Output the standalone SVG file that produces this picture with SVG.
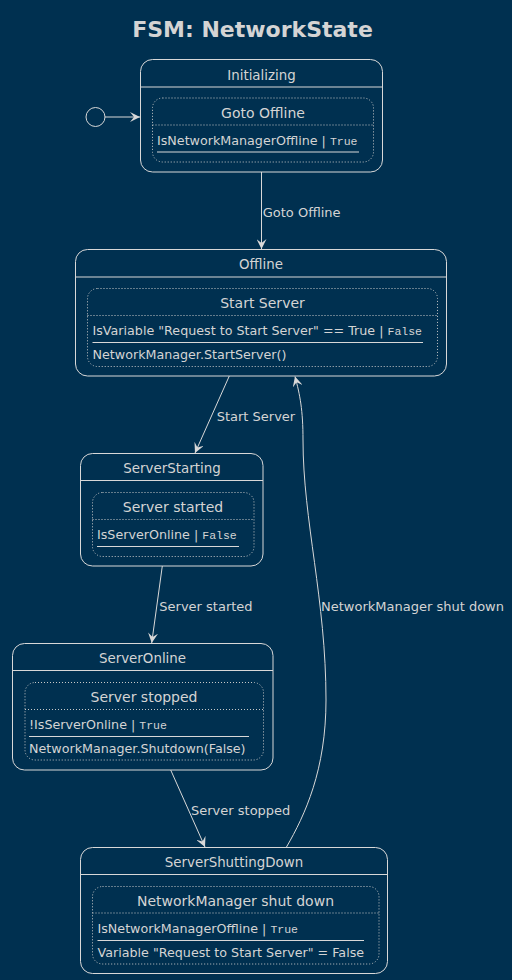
<svg xmlns="http://www.w3.org/2000/svg" width="512" height="980" viewBox="0 0 512 980">
<style>
.bg{fill:#003050}
.st{fill:#003050;stroke:#d8d8d8;stroke-width:1}
.in{fill:none;stroke:#c8c8c8;stroke-width:1;stroke-dasharray:1 2}
.hl{stroke:#d8d8d8;stroke-width:1}
.dl{stroke:#c8c8c8;stroke-width:1;stroke-dasharray:1 2}
.t{font-family:"DejaVu Sans",sans-serif;font-size:13px;fill:#d4d4d4}
.s{font-size:13.4px}
.b{font-size:12.7px}
.it{font-size:14px}
.c{text-anchor:middle}
.m{font-family:"Liberation Mono",monospace;font-size:11.5px}
.title{font-family:"DejaVu Sans",sans-serif;font-size:22px;font-weight:bold;fill:#d4d4d4;text-anchor:middle}
.e{fill:none;stroke:#d8d8d8;stroke-width:1}
</style>
<defs>
<marker id="ah" viewBox="0 0 10 10" refX="10" refY="5" markerWidth="10" markerHeight="10" markerUnits="userSpaceOnUse" orient="auto">
<path d="M0,0 L10,5 L0,10 L4,5 Z" fill="#d8d8d8"/>
</marker>
</defs>
<rect class="bg" x="0" y="0" width="512" height="980"/>
<text class="title" x="252.5" y="37">FSM: NetworkState</text>

<g id="start">
<circle cx="95.5" cy="117" r="9.5" fill="none" stroke="#d8d8d8" stroke-width="1"/>
</g>

<g id="Initializing">
<rect class="st" x="140.5" y="59.5" width="242" height="112.5" rx="12"/>
<line class="hl" x1="140.5" y1="87" x2="382.5" y2="87"/>
<text class="t s c" x="261.5" y="80">Initializing</text>
<rect class="in" x="152.5" y="98" width="221" height="64" rx="10"/>
<text class="t it c" x="263" y="118">Goto Offline</text>
<line class="dl" x1="152.5" y1="125" x2="373.5" y2="125"/>
<text class="t b" x="157" y="145">IsNetworkManagerOffline | <tspan class="m">True</tspan></text>
<line class="hl" x1="157" y1="152" x2="359" y2="152"/>
</g>

<g id="Offline">
<rect class="st" x="75.5" y="249.5" width="371" height="126.5" rx="12"/>
<line class="hl" x1="75.5" y1="277" x2="446.5" y2="277"/>
<text class="t s c" x="261" y="269">Offline</text>
<rect class="in" x="87.5" y="288.5" width="350" height="78" rx="10"/>
<text class="t it c" x="262.5" y="308">Start Server</text>
<line class="dl" x1="87.5" y1="315.5" x2="437.5" y2="315.5"/>
<text class="t b" x="92.5" y="335">IsVariable "Request to Start Server" == True | <tspan class="m">False</tspan></text>
<line class="hl" x1="92.5" y1="342.5" x2="423" y2="342.5"/>
<text class="t b" x="92.5" y="359">NetworkManager.StartServer()</text>
</g>

<g id="ServerStarting">
<rect class="st" x="80.5" y="453.5" width="182.5" height="112.5" rx="12"/>
<line class="hl" x1="80.5" y1="480.5" x2="263" y2="480.5"/>
<text class="t s c" x="172" y="473">ServerStarting</text>
<rect class="in" x="92.5" y="492.5" width="161.5" height="64" rx="10"/>
<text class="t it c" x="173" y="512">Server started</text>
<line class="dl" x1="92.5" y1="519.5" x2="254" y2="519.5"/>
<text class="t b" x="97" y="539">IsServerOnline | <tspan class="m">False</tspan></text>
<line class="hl" x1="97" y1="546.5" x2="239" y2="546.5"/>
</g>

<g id="ServerOnline">
<rect class="st" x="12.5" y="643.5" width="260.5" height="126.5" rx="12"/>
<line class="hl" x1="12.5" y1="670.5" x2="273" y2="670.5"/>
<text class="t s c" x="142.5" y="663">ServerOnline</text>
<rect class="in" x="25" y="682.5" width="238.5" height="77.5" rx="10"/>
<text class="t it c" x="144" y="702">Server stopped</text>
<line class="dl" x1="25" y1="709.5" x2="263.5" y2="709.5"/>
<text class="t b" x="29" y="729">!IsServerOnline | <tspan class="m">True</tspan></text>
<line class="hl" x1="29" y1="736.5" x2="249" y2="736.5"/>
<text class="t b" x="29" y="753">NetworkManager.Shutdown(False)</text>
</g>

<g id="ServerShuttingDown">
<rect class="st" x="80.5" y="847.5" width="307" height="126" rx="12"/>
<line class="hl" x1="80.5" y1="874.5" x2="387.5" y2="874.5"/>
<text class="t s c" x="234" y="867">ServerShuttingDown</text>
<rect class="in" x="92.5" y="886.5" width="286.5" height="77.5" rx="10"/>
<text class="t it c" x="235.5" y="906">NetworkManager shut down</text>
<line class="dl" x1="92.5" y1="913" x2="379" y2="913"/>
<text class="t b" x="97.5" y="933">IsNetworkManagerOffline | <tspan class="m">True</tspan></text>
<line class="hl" x1="97.5" y1="940.5" x2="364" y2="940.5"/>
<text class="t b" x="97.5" y="957">Variable "Request to Start Server" = False</text>
</g>

<g id="connectors">
<path class="e" d="M105,117 L140,117" marker-end="url(#ah)"/>
<path class="e" d="M261.5,172 L261.5,249" marker-end="url(#ah)"/>
<text class="t" x="262.7" y="217">Goto Offline</text>
<path class="e" d="M229.3,376 L195,453" marker-end="url(#ah)"/>
<text class="t" x="216.7" y="421">Start Server</text>
<path class="e" d="M162.3,566 L151.7,643" marker-end="url(#ah)"/>
<text class="t" x="159.3" y="611">Server started</text>
<path class="e" d="M170.7,770 L205,847" marker-end="url(#ah)"/>
<text class="t" x="191" y="815">Server stopped</text>
<path class="e" d="M286.5,847 C305,815 326,770 326,700 C326,600 303,520 303,440 C303,410 300,395 295,376.5" marker-end="url(#ah)"/>
<text class="t" x="321" y="611">NetworkManager shut down</text>
</g>
</svg>
